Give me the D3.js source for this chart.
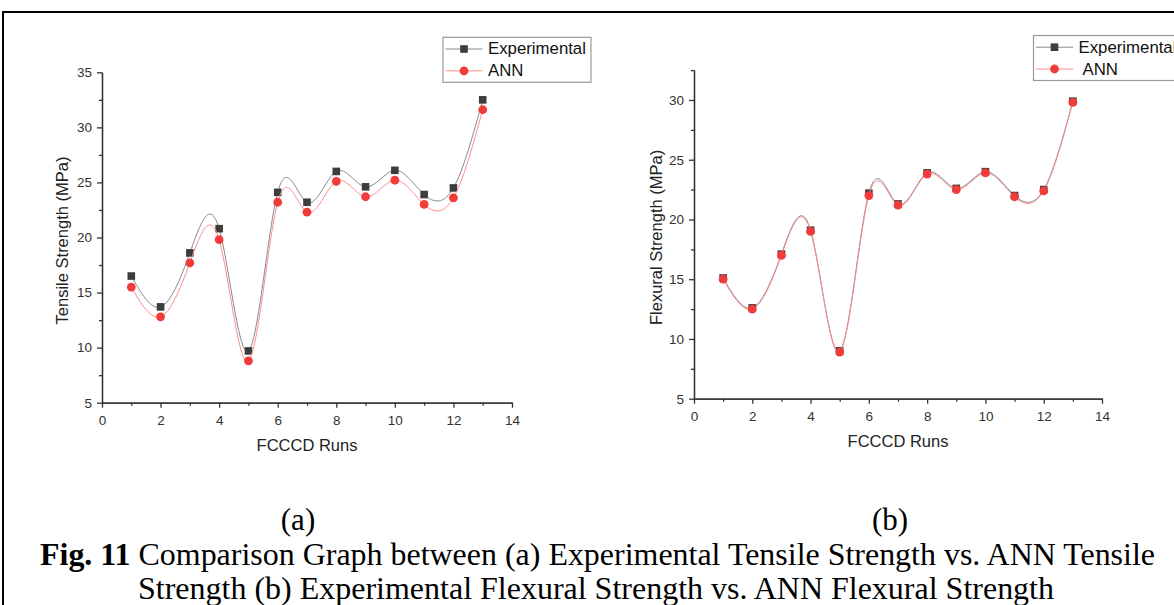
<!DOCTYPE html>
<html>
<head>
<meta charset="utf-8">
<script src="https://cdn.jsdelivr.net/npm/d3@7/dist/d3.min.js"></script>
<style>
  body { margin: 0; background: #fff; }
</style>
</head>
<body>
<div id="chart"></div>
<script>
// values
const runs = [1, 2, 3, 4, 5, 6, 7, 8, 9, 10, 11, 12, 13];
const tensileExp = [16.5, 13.7, 18.6, 20.8, 9.7, 24.1, 23.2, 26.0, 24.6, 26.1, 23.9, 24.5, 32.5];
const tensileAnn = [15.5, 12.8, 17.7, 19.8, 8.8, 23.2, 22.3, 25.1, 23.7, 25.2, 23.0, 23.6, 31.6];
const flexuralExp = [15.1, 12.6, 17.1, 19.1, 9.0, 22.2, 21.3, 23.9, 22.6, 24.0, 22.0, 22.5, 29.9];
const flexuralAnn = [15.0, 12.5, 17.0, 19.0, 8.9, 22.0, 21.2, 23.8, 22.5, 23.9, 21.9, 22.4, 29.8];
const xTicks = [0, 2, 4, 6, 8, 10, 12, 14];
const xMinor = [1, 3, 5, 7, 9, 11, 13];
const tensileTicks = [5, 10, 15, 20, 25, 30, 35];
const tensileMinor = [7.5, 12.5, 17.5, 22.5, 27.5, 32.5];
const flexuralTicks = [5, 10, 15, 20, 25, 30];
const flexuralMinor = [7.5, 12.5, 17.5, 22.5, 27.5, 32.5];
const seriesNames = ['Experimental', 'ANN'];

const W = 1174, H = 605;
const sans = '"Liberation Sans", Arial, sans-serif';
const serif = '"Liberation Serif", "Times New Roman", serif';
const EXP_LINE = '#8a8a8a', EXP_MARK = '#3d3d3d';
const ANN_LINE = '#ff8c8c', ANN_MARK = '#f23b3b';

const svg = d3.select('#chart').append('svg')
  .attr('width', W).attr('height', H);

// outer frame of the figure
svg.append('rect')
  .attr('x', 3).attr('y', 12).attr('width', 1300).attr('height', 700)
  .attr('fill', 'none').attr('stroke', '#000').attr('stroke-width', 2);

const panels = [
  {
    exp: tensileExp, ann: tensileAnn, yTicks: tensileTicks, yMinor: tensileMinor, yMax: 35,
    yLabel: 'Tensile Strength (MPa)', left: 102, right: 512, bottom: 402.7, top: 72.3,
    yTitleX: 62, legend: { x: 443, y: 37.3, w: 148, h: 45, gap: 0 }
  },
  {
    exp: flexuralExp, ann: flexuralAnn, yTicks: flexuralTicks, yMinor: flexuralMinor, yMax: 32.5,
    yLabel: 'Flexural Strength (MPa)', left: 694, right: 1102, bottom: 398.7, top: 70.1,
    yTitleX: 655.5, legend: { x: 1033.5, y: 35.5, w: 160, h: 45, gap: 4 }
  }
];

panels.forEach(p => {
  const x = d3.scaleLinear().domain([0, 14]).range([p.left, p.right]);
  const y = d3.scaleLinear().domain([5, p.yMax]).range([p.bottom, p.top]);
  const g = svg.append('g');

  const styleAxis = sel => {
    sel.select('.domain').attr('stroke', '#333').attr('stroke-width', 1.3);
    sel.selectAll('.tick line').attr('stroke', '#333').attr('stroke-width', 1.3);
    sel.selectAll('.tick text').attr('fill', '#333').attr('font-size', '13.5px').attr('font-family', sans);
  };

  // minor ticks first, majors and domain on top
  g.append('g').attr('transform', `translate(0,${p.bottom})`)
    .call(d3.axisBottom(x).tickValues(xMinor).tickSize(3).tickSizeOuter(0).tickFormat(''))
    .call(styleAxis);
  g.append('g').attr('transform', `translate(${p.left},0)`)
    .call(d3.axisLeft(y).tickValues(p.yMinor).tickSize(3).tickSizeOuter(0).tickFormat(''))
    .call(styleAxis);
  g.append('g').attr('transform', `translate(0,${p.bottom})`)
    .call(d3.axisBottom(x).tickValues(xTicks).tickSize(5).tickSizeOuter(0).tickPadding(8))
    .call(styleAxis);
  g.append('g').attr('transform', `translate(${p.left},0)`)
    .call(d3.axisLeft(y).tickValues(p.yTicks).tickSize(5).tickSizeOuter(0).tickPadding(5))
    .call(styleAxis);

  // axis titles
  g.append('text')
    .attr('transform', `translate(${p.yTitleX},${(p.top + p.bottom) / 2 + 3}) rotate(-90)`)
    .attr('text-anchor', 'middle').attr('dominant-baseline', 'central')
    .attr('fill', '#222').attr('font-size', '16.5px').attr('font-family', sans)
    .text(p.yLabel);
  g.append('text')
    .attr('x', (p.left + p.right) / 2).attr('y', p.bottom + 42)
    .attr('text-anchor', 'middle').attr('dominant-baseline', 'central')
    .attr('fill', '#222').attr('font-size', '16.5px').attr('font-family', sans)
    .text('FCCCD Runs');

  // curves
  const line = vals => d3.line()
    .x((d, i) => x(runs[i])).y(d => y(d))
    .curve(d3.curveNatural)(vals);

  g.append('path').attr('d', line(p.exp))
    .attr('fill', 'none').attr('stroke', EXP_LINE).attr('stroke-width', 1);
  g.selectAll('.sq').data(p.exp).join('rect')
    .attr('class', 'sq')
    .attr('x', (d, i) => x(runs[i]) - 3.8).attr('y', d => y(d) - 3.8)
    .attr('width', 7.6).attr('height', 7.6).attr('fill', EXP_MARK);

  g.append('path').attr('d', line(p.ann))
    .attr('fill', 'none').attr('stroke', ANN_LINE).attr('stroke-width', 1);
  g.selectAll('.dot').data(p.ann).join('circle')
    .attr('class', 'dot')
    .attr('cx', (d, i) => x(runs[i])).attr('cy', d => y(d))
    .attr('r', 4.4).attr('fill', ANN_MARK);

  // legend
  const L = p.legend;
  const lg = g.append('g').attr('transform', `translate(${L.x},${L.y})`);
  lg.append('rect').attr('width', L.w).attr('height', L.h)
    .attr('fill', '#fff').attr('stroke', '#9a9a9a').attr('stroke-width', 1.2);
  seriesNames.forEach((name, i) => {
    const ry = 11.7 + i * 21.8;
    lg.append('line').attr('x1', 2.5).attr('x2', 39.5).attr('y1', ry).attr('y2', ry)
      .attr('stroke', i === 0 ? EXP_LINE : ANN_LINE).attr('stroke-width', 1);
    if (i === 0) {
      lg.append('rect').attr('x', 21 - 3.8).attr('y', ry - 3.8).attr('width', 7.6).attr('height', 7.6)
        .attr('fill', EXP_MARK);
    } else {
      lg.append('circle').attr('cx', 21).attr('cy', ry).attr('r', 4.4).attr('fill', ANN_MARK);
    }
    lg.append('text').attr('x', 45 + (i === 1 ? L.gap : 0)).attr('y', ry)
      .attr('dominant-baseline', 'central')
      .attr('fill', '#111').attr('font-size', '16.8px').attr('font-family', sans)
      .text(name);
  });
});

// sub-labels and caption
const subLabels = ['(a)', '(b)'];
const subX = [298, 890];
subLabels.forEach((t, i) => {
  svg.append('text').attr('x', subX[i]).attr('y', 530)
    .attr('text-anchor', 'middle').attr('font-size', '31px').attr('font-family', serif)
    .attr('fill', '#000').text(t);
});

const cap1 = svg.append('text').attr('x', 40).attr('y', 565)
  .attr('font-size', '32px').attr('font-family', serif).attr('fill', '#000')
  .attr('textLength', 1115).attr('lengthAdjust', 'spacingAndGlyphs');
cap1.append('tspan').attr('font-weight', 'bold').text('Fig. 11');
cap1.append('tspan').text(' Comparison Graph between (a) Experimental Tensile Strength vs. ANN Tensile');

svg.append('text').attr('x', 138).attr('y', 599)
  .attr('font-size', '32px').attr('font-family', serif).attr('fill', '#000')
  .attr('textLength', 916).attr('lengthAdjust', 'spacingAndGlyphs')
  .text('Strength (b) Experimental Flexural Strength vs. ANN Flexural Strength');
</script>
</body>
</html>
